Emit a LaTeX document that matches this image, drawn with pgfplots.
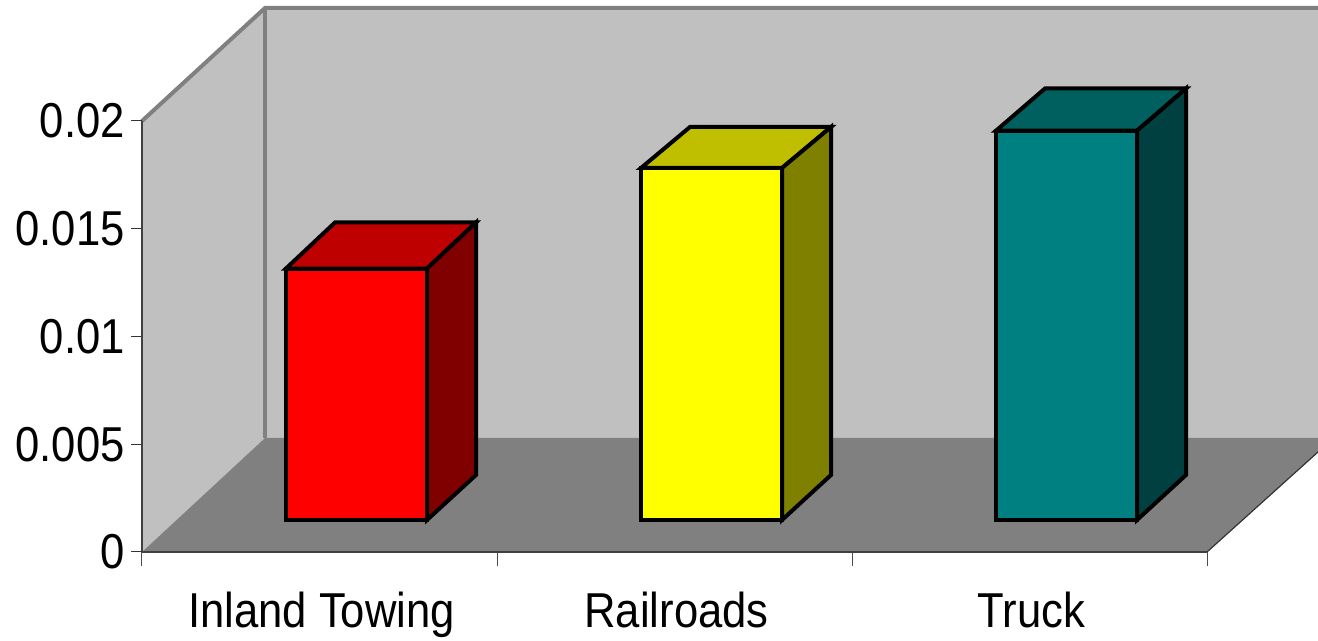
\documentclass[border=0pt]{standalone}
\usepackage{fontspec}
\setmainfont[FakeStretch=0.89]{Liberation Sans}
\usepackage{pgfplots}
\pgfplotsset{compat=1.18}
\definecolor{wall}{HTML}{C0C0C0}
\definecolor{floorc}{HTML}{808080}
\definecolor{redfront}{HTML}{FF0000}
\definecolor{redtop}{HTML}{BF0000}
\definecolor{redside}{HTML}{800000}
\definecolor{yelfront}{HTML}{FFFF00}
\definecolor{yeltop}{HTML}{BFBF00}
\definecolor{yelside}{HTML}{808000}
\definecolor{tealfront}{HTML}{008080}
\definecolor{tealtop}{HTML}{006060}
\definecolor{tealside}{HTML}{004040}
\begin{document}
\begin{tikzpicture}[x=1pt,y=1pt]
\begin{axis}[
  scale only axis,
  width=798.75pt, height=323.25pt,
  xmin=0, xmax=3, ymin=0, ymax=0.02,
  clip=false, axis on top,
  scaled y ticks=false,
  axis x line*=bottom, axis y line*=left,
  axis line style={draw=black!75, line width=1.1pt, -},
  xtick={0.5,1.5,2.5},
  xticklabels={Inland Towing,Railroads,Truck},
  minor xtick={0,1,2,3},
  ytick={0,0.005,0.01,0.015,0.02},
  yticklabels={0,0.005,0.01,0.015,0.02},
  xtick style={draw=none},
  minor x tick style={draw=black!70, line width=0.75pt},
  ytick style={draw=black!80, line width=0.75pt},
  major tick length=8.25pt, minor tick length=10.5pt,
  tick align=outside,
  ticklabel style={font=\fontsize{36.75pt}{40pt}\selectfont},
  yticklabel style={inner sep=0pt, xshift=-4.5pt},
  xticklabel style={anchor=base, inner sep=0pt, xshift=1.5pt, yshift=-48.75pt},
]
% page extent
\addplot[draw=white, line width=0pt, forget plot] coordinates {(-0.4,-0.004084) (3.3127,0.025615)};
% back wall
\addplot[fill=wall, draw=none] coordinates {(0.34648,0.025244) (3.3127,0.025244) (3.3127,0.00529) (0.34648,0.00529)} -- cycle;
% side wall
\addplot[fill=wall, draw=none] coordinates {(0,0.02) (0.34648,0.025244) (0.34648,0.00529) (0,0)} -- cycle;
% floor
\addplot[fill=floorc, draw=none] coordinates {(0,0) (3,0) (3.3127,0.00464) (3.3127,0.00529) (0.34648,0.00529)} -- cycle;
% wall edges
\addplot[draw=floorc, line width=3pt, line cap=butt, overlay] coordinates {(0,0.02) (0.34648,0.025244) (3.3127,0.025244)};
\addplot[draw=floorc, line width=3pt] coordinates {(0.34648,0.025244) (0.34648,0.00529)};
\addplot[draw=black!80, line width=0.9pt, overlay] coordinates {(3,0) (3.3127,0.00464)};
\addplot[draw=floorc, line width=2pt] coordinates {(0,0) (0,0.02)};
% Inland Towing
\addplot[fill=redtop, draw=black, line width=3pt, line join=miter] coordinates {(0.40563,0.013155) (0.80282,0.013155) (0.94085,0.015290) (0.54366,0.015290)} -- cycle;
\addplot[fill=redside, draw=black, line width=3pt, line join=miter] coordinates {(0.80282,0.013155) (0.94085,0.015290) (0.94085,0.003573) (0.80282,0.001485)} -- cycle;
\addplot[fill=redfront, draw=black, line width=3pt, line join=miter] coordinates {(0.40563,0.001485) (0.80282,0.001485) (0.80282,0.013155) (0.40563,0.013155)} -- cycle;
% Railroads
\addplot[fill=yeltop, draw=black, line width=3pt, line join=miter] coordinates {(1.40563,0.017819) (1.80282,0.017819) (1.94085,0.019722) (1.54366,0.019722)} -- cycle;
\addplot[fill=yelside, draw=black, line width=3pt, line join=miter] coordinates {(1.80282,0.017819) (1.94085,0.019722) (1.94085,0.003573) (1.80282,0.001485)} -- cycle;
\addplot[fill=yelfront, draw=black, line width=3pt, line join=miter] coordinates {(1.40563,0.001485) (1.80282,0.001485) (1.80282,0.017819) (1.40563,0.017819)} -- cycle;
% Truck
\addplot[fill=tealtop, draw=black, line width=3pt, line join=miter] coordinates {(2.40563,0.019550) (2.80282,0.019550) (2.94085,0.021508) (2.54366,0.021508)} -- cycle;
\addplot[fill=tealside, draw=black, line width=3pt, line join=miter] coordinates {(2.80282,0.019550) (2.94085,0.021508) (2.94085,0.003573) (2.80282,0.001485)} -- cycle;
\addplot[fill=tealfront, draw=black, line width=3pt, line join=miter] coordinates {(2.40563,0.001485) (2.80282,0.001485) (2.80282,0.019550) (2.40563,0.019550)} -- cycle;
\end{axis}
\end{tikzpicture}
\end{document}
